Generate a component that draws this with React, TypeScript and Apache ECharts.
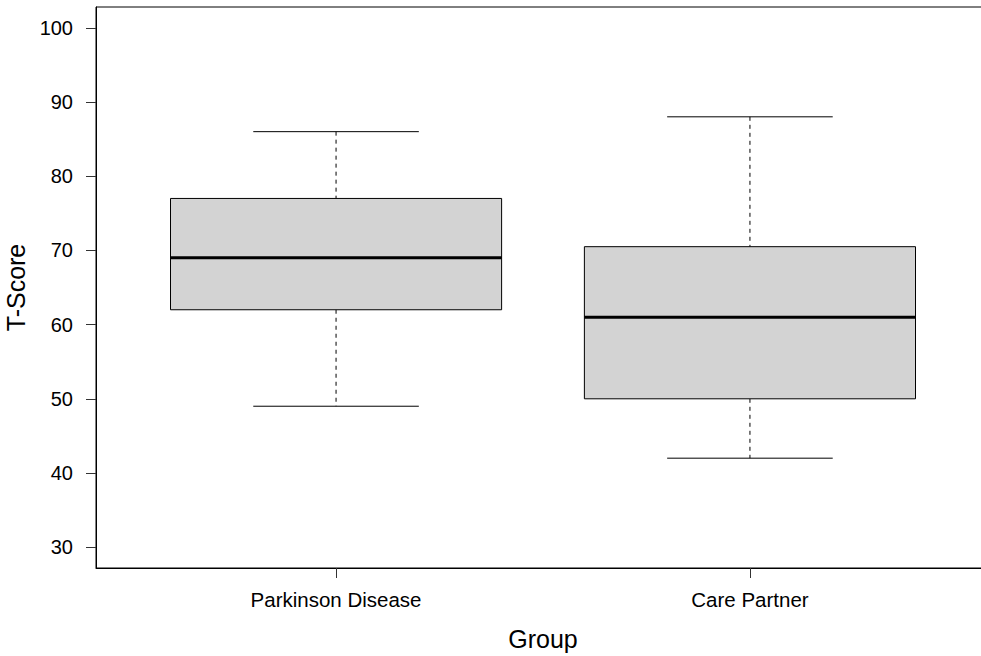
import React, { useEffect, useRef } from "react";
import * as echarts from "echarts";

// Group labels and five-number summaries (T-Score)
const groups = ["Parkinson Disease", "Care Partner"];
const whiskerLow = [49, 42];
const quartile1 = [62, 50];
const medians = [69, 61];
const quartile3 = [77, 70.5];
const whiskerHigh = [86, 88];

const yTicks = [30, 40, 50, 60, 70, 80, 90, 100];
const xPositions = [1, 2];

const FONT = "'Liberation Sans', Arial, Helvetica, sans-serif";

export default function App() {
  const ref = useRef<HTMLDivElement>(null);

  useEffect(() => {
    if (!ref.current) return;
    const chart = echarts.init(ref.current, null, { renderer: "svg" });

    const data = groups.map((_, i) => [
      xPositions[i],
      whiskerLow[i],
      quartile1[i],
      medians[i],
      quartile3[i],
      whiskerHigh[i],
    ]);

    const renderItem = (params: any, api: any) => {
      const x = api.value(0);
      const lo = api.value(1);
      const q1 = api.value(2);
      const med = api.value(3);
      const q3 = api.value(4);
      const hi = api.value(5);
      const boxHalf = 0.4;
      const stapleHalf = 0.2;

      const c = api.coord([x, med]);
      const pLo = api.coord([x, lo]);
      const pQ1 = api.coord([x, q1]);
      const pQ3 = api.coord([x, q3]);
      const pHi = api.coord([x, hi]);
      const boxL = api.coord([x - boxHalf, med])[0];
      const boxR = api.coord([x + boxHalf, med])[0];
      const stL = api.coord([x - stapleHalf, med])[0];
      const stR = api.coord([x + stapleHalf, med])[0];

      const dashed = { stroke: "#000", lineWidth: 1, lineDash: [4, 4] };
      const solid = { stroke: "#000", lineWidth: 1 };

      return {
        type: "group",
        children: [
          {
            type: "line",
            shape: { x1: c[0], y1: pHi[1], x2: c[0], y2: pQ3[1] },
            style: dashed,
          },
          {
            type: "line",
            shape: { x1: c[0], y1: pQ1[1], x2: c[0], y2: pLo[1] },
            style: dashed,
          },
          {
            type: "line",
            shape: { x1: stL, y1: pHi[1], x2: stR, y2: pHi[1] },
            style: solid,
          },
          {
            type: "line",
            shape: { x1: stL, y1: pLo[1], x2: stR, y2: pLo[1] },
            style: solid,
          },
          {
            type: "rect",
            shape: { x: boxL, y: pQ3[1], width: boxR - boxL, height: pQ1[1] - pQ3[1] },
            style: { fill: "#d3d3d3", stroke: "#000", lineWidth: 1 },
          },
          {
            type: "line",
            shape: { x1: boxL, y1: c[1], x2: boxR, y2: c[1] },
            style: { stroke: "#000", lineWidth: 3 },
          },
        ],
      };
    };

    chart.setOption({
      animation: false,
      backgroundColor: "#fff",
      textStyle: { fontFamily: FONT },
      grid: {
        left: 96,
        top: 7,
        width: 894,
        height: 561,
        outerBoundsMode: "none",
        containLabel: false,
        show: true,
        borderColor: "#000",
        borderWidth: 1,
        backgroundColor: "transparent",
      },
      xAxis: {
        type: "value",
        min: 0.42,
        max: 2.58,
        name: "Group",
        nameLocation: "middle",
        nameGap: 58,
        nameTextStyle: { fontSize: 25, color: "#000", fontFamily: FONT },
        axisLine: { show: true, onZero: false, lineStyle: { color: "#000", width: 1 } },
        axisTick: {
          show: true,
          length: 10,
          customValues: xPositions,
          lineStyle: { color: "#333", width: 1 },
        },
        axisLabel: {
          customValues: xPositions,
          margin: 21,
          fontSize: 20.5,
          color: "#000",
          fontFamily: FONT,
          formatter: (v: number) => groups[Math.round(v) - 1] ?? "",
        },
        splitLine: { show: false },
      },
      yAxis: {
        type: "value",
        min: 27.2,
        max: 102.8,
        name: "T-Score",
        nameLocation: "middle",
        nameGap: 64,
        nameRotate: 90,
        nameTextStyle: { fontSize: 25, color: "#000", fontFamily: FONT },
        axisLine: { show: true, onZero: false, lineStyle: { color: "#000", width: 1 } },
        axisTick: {
          show: true,
          length: 10,
          customValues: yTicks,
          lineStyle: { color: "#333", width: 1 },
        },
        axisLabel: {
          customValues: yTicks,
          margin: 23,
          fontSize: 20,
          color: "#000",
          fontFamily: FONT,
        },
        splitLine: { show: false },
      },
      series: [
        {
          type: "custom",
          renderItem,
          encode: { x: 0, y: [1, 2, 3, 4, 5] },
          data,
          clip: false,
        },
      ],
    });

    return () => chart.dispose();
  }, []);

  return (
    <div
      ref={ref}
      style={{ position: "fixed", left: 0, top: 0, width: 981, height: 656, background: "#fff" }}
    />
  );
}
